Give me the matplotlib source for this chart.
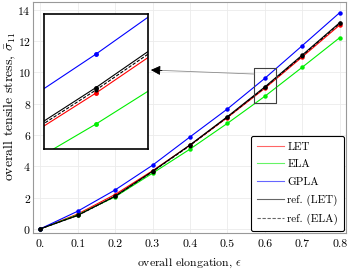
import matplotlib
matplotlib.use("Agg")
import matplotlib.pyplot as plt

plt.rcParams['font.family'] = 'serif'
plt.rcParams['font.serif'] = ['cmr10']
plt.rcParams['mathtext.fontset'] = 'cm'
plt.rcParams['axes.unicode_minus'] = False
plt.rcParams['axes.formatter.use_mathtext'] = True

eps = [0.0, 0.1, 0.2, 0.3, 0.4, 0.5, 0.6, 0.7, 0.8]
let = [0, 0.95, 2.20, 3.72, 5.35, 7.12, 8.99, 11.00, 13.04]
ela = [0, 0.90, 2.05, 3.56, 5.10, 6.75, 8.48, 10.34, 12.23]
gpla = [0, 1.13, 2.49, 4.07, 5.88, 7.67, 9.63, 11.72, 13.83]
ref_let = [0, 0.86, 2.10, 3.68, 5.37, 7.18, 9.08, 11.12, 13.19]
ref_ela = [0, 0.86, 2.08, 3.66, 5.33, 7.14, 9.04, 11.07, 13.14]

xticks = [0, 0.1, 0.2, 0.3, 0.4, 0.5, 0.6, 0.7, 0.8]
xlabels = ["0.", "0.1", "0.2", "0.3", "0.4", "0.5", "0.6", "0.7", "0.8"]
yticks = [0, 2, 4, 6, 8, 10, 12, 14]

fig = plt.figure(figsize=(3.48, 2.72), dpi=100)
ax = fig.add_axes([0.0948, 0.1445, 0.899, 0.848])


def draw(a, ms):
    a.plot(eps, let, color="red", lw=0.8, marker="o", ms=ms, label="LET")
    a.plot(eps, ela, color="#00ee00", lw=0.8, marker="o", ms=ms, label="ELA")
    a.plot(eps, gpla, color="blue", lw=0.8, marker="o", ms=ms, label="GPLA")
    a.plot(eps, ref_let, color="black", lw=0.8, marker="o", ms=ms, label="ref. (LET)")
    a.plot(eps, ref_ela, color="black", lw=0.8, ls=(0, (3, 1.5)), marker="o",
           ms=ms * 0.8, label="ref. (ELA)")


draw(ax, 2.2)
ax.set_xlim(-0.019, 0.816)
ax.set_ylim(-0.24, 14.5)
ax.set_xticks(xticks)
ax.set_xticklabels(xlabels)
ax.set_yticks(yticks)
ax.tick_params(axis="x", labelsize=8.5, length=0, pad=5)
ax.tick_params(axis="y", labelsize=8.5, length=0, pad=1.5)
ax.grid(color="0.92", lw=0.6)
for s in ax.spines.values():
    s.set_color("0.6")
ax.set_xlabel(r"overall elongation, $\epsilon$", fontsize=8.5)
ax.set_ylabel(r"overall tensile stress, $\bar{\sigma}_{11}$", fontsize=10)
ax.xaxis.set_label_coords(0.5, -0.105)
ax.yaxis.set_label_coords(-0.048, 0.55)

leg = ax.legend(loc="lower right", fontsize=8, frameon=True, fancybox=True,
                edgecolor="black", framealpha=1, handlelength=2.4, handletextpad=0.3,
                borderaxespad=0.15, labelspacing=0.7, borderpad=0.55)
for h in leg.legend_handles:
    h.set_marker("")
    h.set_alpha(0.6)
leg.get_frame().set_linewidth(0.8)

# zoom box in the main axes
x0, x1, y0, y1 = 0.571, 0.629, 8.07, 10.29
ax.plot([x0, x1, x1, x0, x0], [y0, y0, y1, y1, y0], color="0.25", lw=0.8)

# inset
ins = fig.add_axes([0.126, 0.452, 0.299, 0.4965])
draw(ins, 2.5)
ins.set_xlim(x0, x1)
ins.set_ylim(y0, y1)
ins.set_xticks([])
ins.set_yticks([])
for s in ins.spines.values():
    s.set_color("black")
    s.set_linewidth(1.2)

ax.annotate("", xy=(151 / 348, 1 - 70 / 272), xycoords="figure fraction",
            xytext=(x0, 9.9), textcoords="data",
            arrowprops=dict(arrowstyle="-|>", color="0.55", lw=0.6,
                            mutation_scale=14, shrinkA=0, shrinkB=0))
ax.annotate("", xy=(151 / 348, 1 - 70 / 272), xycoords="figure fraction",
            xytext=(162 / 348, 1 - 70.5 / 272), textcoords="figure fraction",
            arrowprops=dict(arrowstyle="-|>", color="black", lw=0.6,
                            mutation_scale=14, shrinkA=0, shrinkB=0))

fig.savefig("out.png", dpi=100)
